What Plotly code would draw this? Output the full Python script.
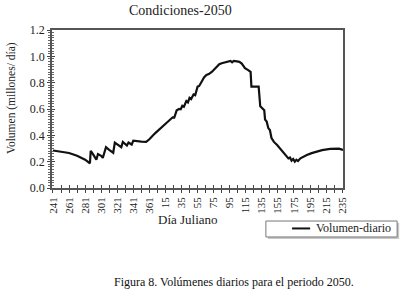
import plotly.graph_objects as go

# Day index from the start of the period (day 241) and daily volume (millones/día)
day_index = [0, 10, 20, 30, 40, 46, 47, 50, 54, 56, 60, 62, 66, 70, 75, 77, 82, 85, 87, 90,
             92, 94, 97, 98, 100, 105, 110, 116, 120, 127, 135, 142, 147, 149, 151, 154, 157,
             159, 161, 163, 166, 168, 170, 172, 175, 177, 180, 182, 185, 188, 191, 194, 198,
             201, 204, 207, 210, 214, 218, 221, 223, 225, 229, 232, 235, 239, 243, 246, 247,
             256, 258, 261, 263, 264, 266, 268, 270, 272, 275, 279, 283, 287, 290, 293, 295,
             297, 299, 301, 303, 305, 308, 312, 316, 322, 328, 335, 345, 352, 356, 361]
volume = [0.285, 0.278, 0.266, 0.245, 0.215, 0.188, 0.283, 0.255, 0.215, 0.258, 0.245, 0.228,
          0.31, 0.29, 0.268, 0.345, 0.325, 0.31, 0.35, 0.335, 0.322, 0.345, 0.335, 0.33, 0.36,
          0.355, 0.352, 0.35, 0.37, 0.415, 0.46, 0.5, 0.525, 0.537, 0.535, 0.59, 0.6, 0.598,
          0.625, 0.618, 0.66, 0.65, 0.685, 0.675, 0.71, 0.705, 0.77, 0.775, 0.807, 0.84, 0.858,
          0.865, 0.883, 0.9, 0.92, 0.94, 0.948, 0.955, 0.958, 0.965, 0.955, 0.965, 0.962,
          0.958, 0.945, 0.91, 0.895, 0.882, 0.77, 0.77, 0.62, 0.605, 0.59, 0.52, 0.505, 0.455,
          0.44, 0.38, 0.35, 0.326, 0.295, 0.265, 0.245, 0.225, 0.232, 0.208, 0.22, 0.2, 0.215,
          0.205, 0.225, 0.24, 0.25, 0.265, 0.276, 0.288, 0.297, 0.3, 0.299, 0.289]

tick_labels = ["241", "261", "281", "301", "321", "341", "361", "15", "35", "55", "75",
               "95", "115", "135", "155", "175", "195", "215", "235"]
tick_positions = [i * 20 for i in range(len(tick_labels))]
series_name = "Volumen-diario"

FONT = "Liberation Serif"
TXT = "#222222"

fig = go.Figure()
fig.add_trace(go.Scatter(x=day_index, y=volume, mode="lines", name=series_name,
                         line=dict(color="#111111", width=2.2), showlegend=False))
# invisible trace on overlay axes to draw inward ticks
fig.add_trace(go.Scatter(x=[0], y=[0], xaxis="x2", yaxis="y2", mode="lines",
                         showlegend=False, hoverinfo="skip", line=dict(width=0)))

fig.update_layout(
    width=404, height=299,
    margin=dict(l=52, r=61, t=30, b=111, autoexpand=False),
    paper_bgcolor="white", plot_bgcolor="white",
    font=dict(family=FONT, color=TXT, size=11),
    showlegend=False,
    xaxis=dict(range=[-1.2, 361], tickmode="array", tickvals=tick_positions,
               ticktext=tick_labels, tickangle=-90, ticks="outside", ticklen=3,
               tickcolor="#444", tickfont=dict(family=FONT, size=11, color=TXT),
               showgrid=False, zeroline=False, showline=True, linecolor="#555",
               linewidth=1.5, mirror=True, automargin=False,
               minor=dict(dtick=10, tick0=0, ticks="outside", ticklen=3, tickcolor="#444")),
    yaxis=dict(range=[0, 1.2], tickmode="array", tickvals=[0, 0.2, 0.4, 0.6, 0.8, 1.0, 1.2],
               ticktext=["0.0", "0.2", "0.4", "0.6", "0.8", "1.0", "1.2"],
               ticks="outside", ticklen=3, tickcolor="#444",
               tickfont=dict(family=FONT, size=12, color=TXT),
               showgrid=False, zeroline=False, showline=True, linecolor="#555",
               linewidth=1.5, mirror=True, automargin=False,
               minor=dict(dtick=0.02, tick0=0, ticks="outside", ticklen=2, tickcolor="#666")),
    xaxis2=dict(overlaying="x", matches="x", range=[-1.2, 361], tickmode="array",
                tickvals=tick_positions, showticklabels=False, ticks="inside", ticklen=3,
                tickcolor="#444", showgrid=False, zeroline=False, showline=False,
                automargin=False,
                minor=dict(dtick=10, tick0=0, ticks="inside", ticklen=3, tickcolor="#444")),
    yaxis2=dict(overlaying="y", matches="y", range=[0, 1.2], tickmode="array",
                tickvals=[0, 0.2, 0.4, 0.6, 0.8, 1.0, 1.2], showticklabels=False,
                ticks="inside", ticklen=3, tickcolor="#444", showgrid=False,
                zeroline=False, showline=False, automargin=False,
                minor=dict(dtick=0.02, tick0=0, ticks="inside", ticklen=2, tickcolor="#666")),
    shapes=[
        # legend shadow and box
        dict(type="rect", xref="paper", yref="paper", x0=0.742, x1=1.193, y0=-0.322,
             y1=-0.221, line=dict(width=0), fillcolor="#c8c8c8", layer="above"),
        dict(type="rect", xref="paper", yref="paper", x0=0.735, x1=1.186, y0=-0.310,
             y1=-0.209, line=dict(width=1, color="#777"), fillcolor="white", layer="above"),
        # legend line sample
        dict(type="line", xref="paper", yref="paper", x0=0.825, x1=0.887, y0=-0.256,
             y1=-0.256, line=dict(width=2, color="#111"), layer="above"),
    ],
    annotations=[
        dict(text=series_name, xref="paper", yref="paper", x=0.900, y=-0.256,
             xanchor="left", yanchor="middle", showarrow=False,
             font=dict(family=FONT, size=12, color=TXT)),
        dict(text="Condiciones-2050", xref="paper", yref="paper", x=0.44, y=1.0,
             yshift=20, xanchor="center", yanchor="middle", showarrow=False,
             font=dict(family=FONT, size=14, color=TXT)),
        dict(text="Volumen (millones/ día)", xref="paper", yref="paper", x=0, xshift=-40,
             y=0.57, textangle=-90, xanchor="center", yanchor="middle", showarrow=False,
             font=dict(family=FONT, size=11.5, color=TXT)),
        dict(text="Día Juliano", xref="paper", yref="paper", x=0.466, y=0, yshift=-31,
             xanchor="center", yanchor="middle", showarrow=False,
             font=dict(family=FONT, size=13, color=TXT)),
        dict(text="Figura 8. Volúmenes diarios para el periodo 2050.", xref="paper",
             yref="paper", x=0.625, y=0, yshift=-94, xanchor="center", yanchor="middle",
             showarrow=False, font=dict(family=FONT, size=12, color="#111")),
    ],
)

fig.write_html("out.html", config={"displayModeBar": False},
               post_script="document.body.style.margin='0';document.body.style.padding='0';")
